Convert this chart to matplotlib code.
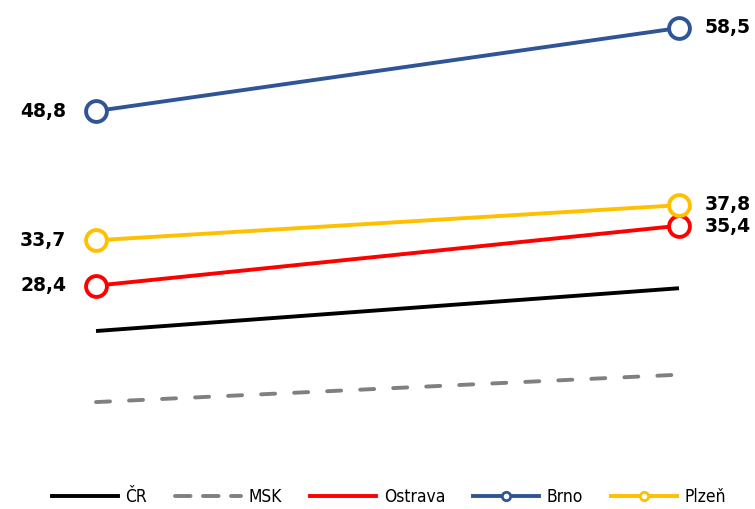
import matplotlib
matplotlib.use("Agg")
import matplotlib.pyplot as plt
from matplotlib.lines import Line2D
from matplotlib.font_manager import FontProperties

years = [0, 1]
series_names = ["ČR", "MSK", "Ostrava", "Brno", "Plzeň"]
cr = [23.1, 28.1]
msk = [14.8, 18.0]
ostrava = [28.4, 35.4]
brno = [48.8, 58.5]
plzen = [33.7, 37.8]

fig = plt.figure(figsize=(7.55, 5.09), dpi=100)
ax = fig.add_axes([0, 0, 1, 1])
ax.set_xlim(-0.1647, 1.1304)
ax.set_ylim(2.31, 61.77)
ax.axis("off")

lw = 2.8
ax.plot(years, cr, color="black", lw=lw, solid_capstyle="butt")
ax.plot(years, msk, color="#808080", lw=lw, dashes=(3.6, 4.9), dash_capstyle="round")
mk = dict(marker="o", markersize=15, markerfacecolor="white", markeredgewidth=2.8)
ax.plot(years, ostrava, color="#FF0000", lw=lw, **mk, zorder=3)
ax.plot(years, plzen, color="#FFC000", lw=lw, **mk, zorder=4)
ax.plot(years, brno, color="#2F5597", lw=lw, **mk, zorder=3)

lab = dict(fontsize=13.5, fontweight="bold", color="black", va="center")
for vals, dyl, dyr in [(brno, 0, 0), (plzen, 0, 0.3), (ostrava, 0, -0.3)]:
    ax.annotate(f"{vals[0]:.1f}".replace(".", ","), xy=(0, vals[0]), xytext=(-30, dyl),
                textcoords="offset pixels", ha="right", **lab)
    ax.annotate(f"{vals[1]:.1f}".replace(".", ","), xy=(1, vals[1]), xytext=(26, dyr),
                textcoords="offset pixels", ha="left", **lab)

handles = [
    Line2D([], [], color="black", lw=lw),
    Line2D([], [], color="#808080", lw=lw, dashes=(4.0, 3.2), dash_capstyle="round"),
    Line2D([], [], color="#FF0000", lw=lw),
    Line2D([], [], color="#2F5597", lw=lw, marker="o", markersize=6, markerfacecolor="white", markeredgewidth=2),
    Line2D([], [], color="#FFC000", lw=lw, marker="o", markersize=6, markerfacecolor="white", markeredgewidth=2),
]
prop = FontProperties(family=["DejaVu Sans"], size=12.5, stretch="condensed")
fig.legend(handles, series_names, loc="center", bbox_to_anchor=(0.515, 0.024), ncol=5,
           frameon=False, prop=prop, handlelength=3.8, columnspacing=1.6, handletextpad=0.45)

fig.savefig("out.png", dpi=100)
